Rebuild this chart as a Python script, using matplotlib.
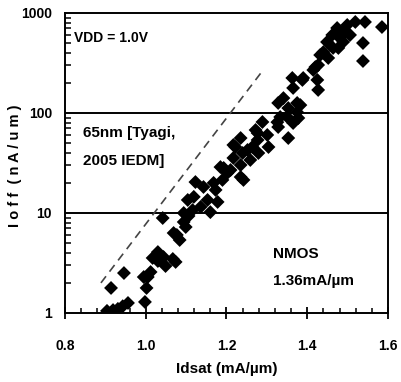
import matplotlib
matplotlib.use("Agg")
import matplotlib.pyplot as plt
from matplotlib.ticker import FixedLocator, LogLocator, NullFormatter

plt.rcParams['font.family'] = ['Liberation Sans', 'DejaVu Sans']
plt.rcParams['font.weight'] = 'bold'

idsat = [0.904, 0.919, 0.931, 0.943, 0.956, 0.914, 0.946, 0.998, 1.002, 1.005,
         1.012, 1.017, 1.030, 1.044, 1.049, 1.067, 1.074, 1.042, 1.069, 1.084,
         1.099, 1.104, 1.116, 1.077, 0.995, 1.030, 1.094, 1.106, 1.094, 1.119,
         1.123, 1.136, 1.153, 1.160, 1.173, 1.178, 1.190, 1.193, 1.210, 1.217,
         1.222, 1.235, 1.240, 1.252, 1.259, 1.264, 1.277, 1.235, 1.143, 1.168,
         1.202, 1.242, 1.185, 1.235, 1.217, 1.272, 1.289, 1.301, 1.304, 1.279,
         1.328, 1.333, 1.328, 1.341, 1.353, 1.353, 1.365, 1.375, 1.378, 1.363,
         1.365, 1.388, 1.383, 1.375, 1.351, 1.326, 1.277, 1.415, 1.425, 1.427,
         1.427, 1.440, 1.449, 1.464, 1.477, 1.452, 1.462, 1.474, 1.489, 1.489,
         1.499, 1.506, 1.519, 1.543, 1.585, 1.538, 1.538, 1.432, 1.420, 1.390,
         1.481]
ioff = [1.05, 1.07, 1.10, 1.17, 1.26, 1.78, 2.51, 1.29, 1.78, 2.29,
        2.57, 3.55, 3.31, 3.63, 2.95, 3.47, 3.24, 8.91, 6.31, 5.37,
        7.24, 13.5, 10.7, 6.03, 2.29, 4.07, 8.13, 9.33, 10.0, 14.5,
        20.4, 11.5, 13.5, 10.2, 17.0, 12.9, 21.4, 28.2, 26.9, 35.5,
        45.7, 22.9, 39.8, 42.7, 33.9, 45.7, 53.7, 30.2, 18.2, 20.0,
        25.1, 21.4, 28.8, 56.2, 47.9, 67.6, 81.3, 60.3, 45.7, 39.8,
        126, 91.2, 72.4, 141, 112, 56.2, 79.4, 126, 89.1, 224,
        178, 214, 120, 102, 91, 81, 63, 269, 214, 170,
        302, 407, 513, 447, 447, 355, 603, 708, 646, 513,
        759, 603, 813, 813, 724, 501, 331, 380, 288, 224,
        562]

ref_x = [0.889, 1.291]
ref_y = [2.0, 270]

x_ticks = [0.8, 1.0, 1.2, 1.4, 1.6]
x_ticklabels = ['0.8', '1.0', '1.2', '1.4', '1.6']
y_ticks = [1, 10, 100, 1000]
y_ticklabels = ['1', '10', '100', '1000']

fig = plt.figure(figsize=(4.02, 3.82), dpi=100)
ax = fig.add_axes([65/402, 69/382, 323/402, 300/382])

ax.scatter(idsat, ioff, marker='D', s=50, color='black', edgecolors='none', zorder=3)
ax.plot(ref_x, ref_y, linestyle=(0, (5, 3.5)), color='#444444', linewidth=1.2, zorder=2)

ax.set_yscale('log')
ax.set_xlim(0.8, 1.6)
ax.set_ylim(1, 1000)

for yv in [10, 100]:
    ax.axhline(yv, color='black', linewidth=1.4, zorder=1)

ax.xaxis.set_major_locator(FixedLocator(x_ticks))
ax.set_xticklabels(x_ticklabels)
ax.xaxis.set_minor_locator(FixedLocator([0.8 + 0.04 * i for i in range(21)]))
ax.yaxis.set_major_locator(FixedLocator(y_ticks))
ax.set_yticklabels(y_ticklabels)
ax.yaxis.set_minor_locator(LogLocator(base=10, subs=range(2, 10)))
ax.yaxis.set_minor_formatter(NullFormatter())

ax.tick_params(axis='x', which='major', direction='inout', length=8, width=1.3, labelsize=10, pad=15)
ax.tick_params(axis='x', which='minor', direction='in', length=3.6, width=1.1)
ax.tick_params(axis='y', which='major', direction='in', length=0, labelsize=10, pad=9.4)
ax.tick_params(axis='y', which='minor', direction='in', length=4.3, width=1.1)

for sp in ax.spines.values():
    sp.set_linewidth(1.4)

for lab in ax.get_xticklabels() + ax.get_yticklabels():
    lab.set_fontweight('bold')

ax.set_xlabel('Idsat (mA/\u00b5m)', fontsize=11, fontweight='bold', labelpad=6)
ax.set_ylabel('I o f f  ( n A / u m )', fontsize=10.5, fontweight='bold')
ax.yaxis.set_label_coords(-0.133, 0.49)

ax.text(0.028, 0.903, 'VDD = 1.0V', transform=ax.transAxes, fontsize=10,
        fontweight='bold', va='baseline')
ax.text(0.056, 0.587, '65nm [Tyagi,', transform=ax.transAxes, fontsize=11,
        fontweight='bold', va='baseline')
ax.text(0.056, 0.493, '2005 IEDM]', transform=ax.transAxes, fontsize=11,
        fontweight='bold', va='baseline')
ax.text(0.644, 0.183, 'NMOS', transform=ax.transAxes, fontsize=11,
        fontweight='bold', va='baseline')
ax.text(0.644, 0.093, '1.36mA/\u00b5m', transform=ax.transAxes, fontsize=11,
        fontweight='bold', va='baseline')

fig.savefig('out.png', dpi=100)
